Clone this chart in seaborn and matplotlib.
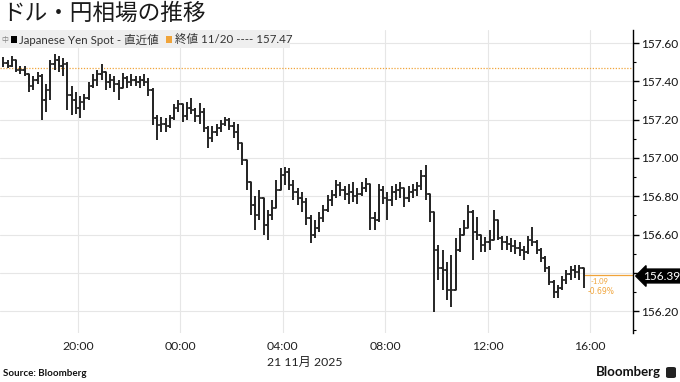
import numpy as np
import pandas as pd
import matplotlib
matplotlib.use("Agg")
import matplotlib.pyplot as plt
import matplotlib.dates as mdates
import matplotlib.transforms as mtransforms
from matplotlib.patches import Rectangle, FancyBboxPatch
import seaborn as sns

# ---------------- data (10-minute bars, USD/JPY) ----------------
bar_start = "2025-11-20 17:00"
first_open = 157.49
highs = [157.527, 157.511, 157.532, 157.501, 157.480, 157.480, 157.438, 157.428, 157.449, 157.438,
         157.386, 157.511, 157.542, 157.532, 157.522, 157.501, 157.375, 157.344, 157.323, 157.334,
         157.396, 157.438, 157.459, 157.490, 157.449, 157.438, 157.428, 157.407, 157.443, 157.428,
         157.438, 157.428, 157.428, 157.438, 157.417, 157.365, 157.224, 157.214, 157.208, 157.224,
         157.281, 157.302, 157.281, 157.292, 157.313, 157.261, 157.287, 157.261, 157.167, 157.167,
         157.177, 157.198, 157.214, 157.208, 157.187, 157.177, 157.078, 156.989, 156.858, 156.801,
         156.832, 156.754, 156.728, 156.780, 156.885, 156.947, 156.952, 156.947, 156.885, 156.843,
         156.822, 156.791, 156.702, 156.676, 156.717, 156.754, 156.806, 156.832, 156.885, 156.874,
         156.853, 156.864, 156.874, 156.843, 156.874, 156.895, 156.858, 156.717, 156.864, 156.853,
         156.822, 156.853, 156.864, 156.874, 156.843, 156.853, 156.864, 156.874, 156.937, 156.963,
         156.806, 156.717, 156.545, 156.519, 156.456, 156.493, 156.582, 156.634, 156.676, 156.754,
         156.728, 156.691, 156.597, 156.587, 156.623, 156.728, 156.676, 156.592, 156.592, 156.582,
         156.571, 156.561, 156.540, 156.592, 156.639, 156.571, 156.529, 156.488, 156.435, 156.362,
         156.336, 156.383, 156.415, 156.435, 156.441, 156.441, 156.425]
lows = [157.475, 157.469, 157.475, 157.449, 157.438, 157.428, 157.344, 157.355, 157.386, 157.198,
        157.240, 157.302, 157.459, 157.449, 157.428, 157.250, 157.224, 157.229, 157.208, 157.250,
        157.302, 157.365, 157.375, 157.407, 157.355, 157.365, 157.344, 157.302, 157.365, 157.365,
        157.375, 157.375, 157.365, 157.375, 157.323, 157.172, 157.093, 157.135, 157.135, 157.156,
        157.198, 157.240, 157.187, 157.198, 157.229, 157.187, 157.177, 157.135, 157.052, 157.083,
        157.114, 157.135, 157.167, 157.146, 157.104, 157.041, 156.963, 156.832, 156.702, 156.623,
        156.676, 156.597, 156.571, 156.676, 156.738, 156.832, 156.858, 156.832, 156.780, 156.754,
        156.717, 156.650, 156.556, 156.582, 156.613, 156.665, 156.717, 156.749, 156.791, 156.801,
        156.780, 156.759, 156.770, 156.759, 156.801, 156.822, 156.623, 156.623, 156.665, 156.759,
        156.676, 156.749, 156.780, 156.791, 156.744, 156.770, 156.791, 156.801, 156.832, 156.780,
        156.665, 156.195, 156.362, 156.310, 156.258, 156.221, 156.388, 156.509, 156.597, 156.634,
        156.467, 156.571, 156.509, 156.509, 156.519, 156.597, 156.571, 156.519, 156.519, 156.509,
        156.498, 156.488, 156.467, 156.498, 156.540, 156.498, 156.456, 156.404, 156.336, 156.268,
        156.268, 156.310, 156.341, 156.362, 156.373, 156.362, 156.321]
closes = [157.496, 157.480, 157.511, 157.459, 157.459, 157.438, 157.375, 157.407, 157.428, 157.302,
          157.355, 157.490, 157.511, 157.480, 157.490, 157.328, 157.302, 157.261, 157.292, 157.313,
          157.375, 157.407, 157.438, 157.449, 157.396, 157.407, 157.386, 157.365, 157.417, 157.396,
          157.407, 157.396, 157.407, 157.396, 157.355, 157.208, 157.172, 157.177, 157.167, 157.208,
          157.261, 157.281, 157.219, 157.261, 157.250, 157.219, 157.240, 157.156, 157.104, 157.135,
          157.156, 157.177, 157.198, 157.167, 157.135, 157.078, 156.989, 156.874, 156.754, 156.702,
          156.791, 156.650, 156.702, 156.738, 156.832, 156.911, 156.926, 156.858, 156.822, 156.791,
          156.770, 156.686, 156.597, 156.634, 156.686, 156.728, 156.780, 156.806, 156.858, 156.832,
          156.811, 156.822, 156.801, 156.811, 156.843, 156.864, 156.686, 156.676, 156.832, 156.791,
          156.780, 156.822, 156.832, 156.843, 156.791, 156.822, 156.832, 156.853, 156.905, 156.811,
          156.717, 156.519, 156.425, 156.415, 156.310, 156.310, 156.519, 156.597, 156.634, 156.717,
          156.613, 156.597, 156.545, 156.561, 156.571, 156.676, 156.582, 156.561, 156.550, 156.540,
          156.529, 156.519, 156.509, 156.571, 156.561, 156.519, 156.477, 156.425, 156.352, 156.300,
          156.321, 156.362, 156.394, 156.415, 156.404, 156.425, 156.390]

prev_close_label = "終値 11/20 ---- 157.47"
prev_close = 157.47
last_price = 156.39
change_abs = "-1.09"
change_pct = "-0.69%"
ytick_values = [156.20, 156.40, 156.60, 156.80, 157.00, 157.20, 157.40, 157.60]
ytick_labels = ["156.20", "", "156.60", "156.80", "157.00", "157.20", "157.40", "157.60"]
yminor_values = [156.10, 156.30, 156.50, 156.70, 156.90, 157.10, 157.30, 157.50]
xtick_hours = [0, 4, 8, 12, 16, 20]
date_label = "21 11月 2025"
title = "ドル・円相場の推移"
series_label = "Japanese Yen Spot - 直近値"

# ---------------- style ----------------
sns.set_theme(style="white")
plt.rcParams['font.family'] = ['Lato', 'Noto Sans CJK JP', 'DejaVu Sans']

ORANGE = "#f0a43a"
BAR = "#262626"

times = pd.date_range(bar_start, periods=len(closes), freq="10min") + pd.Timedelta(minutes=5)
opens = [first_open] + closes[:-1]
df = pd.DataFrame({"time": times, "open": opens, "high": highs, "low": lows, "close": closes})
df["hi"] = df[["high", "open", "close"]].max(axis=1)
df["lo"] = df[["low", "open", "close"]].min(axis=1)

W, H = 680, 382
fig = plt.figure(figsize=(W / 100, H / 100), dpi=100)
ax = fig.add_axes([0, 49 / H, 633 / W, 303 / H])

x0 = pd.Timestamp("2025-11-20 16:57")
x1 = pd.Timestamp("2025-11-21 17:41")

# high-low bars
xn = mdates.date2num(df["time"])
ax.vlines(xn, df["lo"], df["hi"], color=BAR, lw=1.4, zorder=3)
# open/close path (step)
sns.lineplot(data=df, x="time", y="close", ax=ax, color=BAR, lw=1.2,
             drawstyle="steps-post", zorder=3, legend=False)
half = 4 / 1440
ax.hlines(df["open"], xn - half, xn, color=BAR, lw=1.2, zorder=3)

# reference lines
ax.axhline(prev_close, color=ORANGE, lw=0.9, ls=(0, (1, 1.3)), zorder=2)
ax.hlines(last_price, xn[-1], mdates.date2num(x1), color=ORANGE, lw=0.9, zorder=2)

ax.set_xlim(x0, x1)
ax.set_ylim(156.086, 157.668)

ax.yaxis.tick_right()
ax.set_yticks(ytick_values)
ax.set_yticklabels(ytick_labels)
ax.set_yticks(yminor_values, minor=True)
ax.tick_params(axis="y", which="major", direction="out", length=4, width=1, color="black",
               labelsize=8.6, pad=1.5, labelcolor="#111111", right=True, left=False)
ax.tick_params(axis="y", which="minor", direction="out", length=2.5, width=0.8, color="black",
               right=True, left=False)

ax.xaxis.set_major_locator(mdates.HourLocator(byhour=xtick_hours))
ax.xaxis.set_major_formatter(mdates.DateFormatter("%H:%M"))
ax.tick_params(axis="x", length=0, labelsize=8.8, pad=6, labelcolor="#222222")
ax.set_xlabel("")
ax.set_ylabel("")

ax.grid(True, color="#e6e6e6", lw=0.8)
ax.set_axisbelow(True)
for s in ["left", "top", "bottom"]:
    ax.spines[s].set_visible(False)
ax.spines["right"].set_visible(True)
ax.spines["right"].set_color("black")
ax.spines["right"].set_linewidth(1)

# last price box
fig.text(643 / W, 1 - 276 / H, f"{last_price:.2f}", ha="left", va="center",
         color="white", fontsize=8.6, zorder=6,
         bbox=dict(boxstyle="larrow,pad=0.12", fc="black", ec="black"))

# change annotations
fig.text(591 / W, 1 - 282 / H, change_abs, color=ORANGE, fontsize=5.5, ha="left", va="center")
fig.text(588 / W, 1 - 291 / H, change_pct, color=ORANGE, fontsize=5.5, ha="left", va="center",
         family=["DejaVu Sans"])

# title
fig.text(2 / W, 1 - 13 / H, title, fontsize=16.3, ha="left", va="center", color="#1a1a1a",
         family=["Noto Sans CJK JP"])

# legend bar
fig.patches.append(Rectangle((0, 1 - 48 / H), 290 / W, 18 / H, transform=fig.transFigure,
                             fc="#efefef", ec="none", zorder=4))
fig.text(1 / W, 1 - 40 / H, "中", fontsize=5, color="#888888", ha="left", va="center",
         family=["Noto Sans CJK JP"], zorder=5)
fig.patches.append(Rectangle((11 / W, 1 - 43 / H), 6 / W, 7 / H, transform=fig.transFigure,
                             fc="black", ec="none", zorder=5))
fig.text(19 / W, 1 - 39.5 / H, series_label, fontsize=8.3, color="#333333", ha="left", va="center",
         zorder=5)
fig.patches.append(Rectangle((166 / W, 1 - 43 / H), 6 / W, 7 / H, transform=fig.transFigure,
                             fc=ORANGE, ec="none", zorder=5))
fig.text(175 / W, 1 - 39.5 / H, prev_close_label, fontsize=8.3, color="#333333", ha="left",
         va="center", zorder=5)

# date label
fig.text(267 / W, 1 - 362 / H, date_label, fontsize=8.8, color="#222222", ha="left", va="center")

# footer
fig.text(3 / W, 1 - 374 / H, "Source: Bloomberg", fontsize=7, fontweight="bold",
         color="#111111", ha="left", va="center")
fig.text(661 / W, 1 - 372 / H, "Bloomberg", fontsize=9.5, fontweight="bold",
         color="#111111", ha="right", va="center")
fig.patches.append(FancyBboxPatch((666 / W, 1 - 378 / H), 10 / W, 11 / H,
                                  boxstyle="round,pad=0,rounding_size=0.004",
                                  transform=fig.transFigure, fc="#222222", ec="none"))

fig.savefig("out.png", dpi=100)
